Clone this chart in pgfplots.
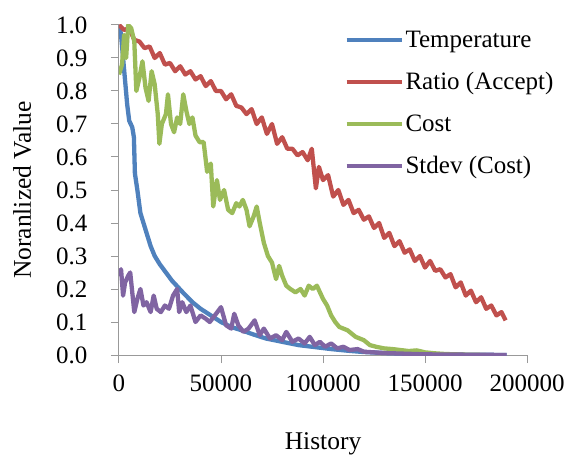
\documentclass[border=0pt]{standalone}
\usepackage{pgfplots}
\pgfplotsset{compat=1.18}
\usepackage{fontspec}
\setmainfont{Liberation Serif}
\definecolor{xlblue}{HTML}{4F81BD}
\definecolor{xlred}{HTML}{C0504D}
\definecolor{xlgreen}{HTML}{9BBB59}
\definecolor{xlpurple}{HTML}{8064A2}
\begin{document}
\begin{tikzpicture}
\begin{axis}[
  name=ax,
  scale only axis,
  width=408pt, height=330pt,
  xmin=0, xmax=200000, ymin=0, ymax=1,
  axis x line*=bottom, axis y line*=left,
  axis line style={draw=gray!80, line width=1pt, -},
  tick style={draw=gray!80, line width=1pt},
  tick align=outside,
  major tick length=8pt,
  scaled x ticks=false,
  xtick={0,50000,100000,150000,200000},
  xticklabels={0,50000,100000,150000,200000},
  ytick={0,0.1,0.2,0.3,0.4,0.5,0.6,0.7,0.8,0.9,1.0},
  yticklabels={0.0,0.1,0.2,0.3,0.4,0.5,0.6,0.7,0.8,0.9,1.0},
  xticklabel style={font=\fontsize{25}{29}\selectfont, yshift=-8pt},
  yticklabel style={font=\fontsize{25}{29}\selectfont, xshift=-20pt},
  xlabel={History},
  ylabel={Noranlized Value},
  label style={font=\fontsize{25.5}{29}\selectfont},
  xlabel style={yshift=-34pt},
  ylabel style={yshift=18pt},
  legend cell align=left,
  legend image code/.code={\draw[#1, line width=4pt] (0pt,0pt) -- (55pt,0pt);},
  legend style={at={(0.545,0.995)}, anchor=north west, draw=none, fill=none,
    font=\fontsize{25}{29}\selectfont, row sep=19.5pt,
    nodes={inner sep=2pt}},
  every axis plot/.append style={line width=4.3pt, line join=round},
]
\addplot[xlblue] coordinates {
(0,1.0) (500,0.99) (1000,0.97) (2000,0.90) (3000,0.83) (4000,0.76) (5000,0.71)
(6500,0.69) (7300,0.66) (7800,0.55) (9000,0.50) (10500,0.43) (12000,0.40)
(13500,0.37) (15500,0.33) (17500,0.30) (20000,0.275) (23000,0.25) (26000,0.225)
(29000,0.205) (32000,0.185) (36000,0.16) (40000,0.14) (45000,0.12) (50000,0.10)
(55000,0.085) (60000,0.075) (66000,0.062) (72000,0.05) (80000,0.04) (88000,0.03)
(96000,0.024) (104000,0.018) (112000,0.013) (120000,0.009) (130000,0.006)
(140000,0.004) (150000,0.003) (160000,0.002) (170000,0.001) (190000,0.0)
};
\addlegendentry{Temperature}
\addplot[xlred] coordinates {
(0,1.00) (2500,0.985) (5000,0.99) (7500,0.955) (10000,0.95) (12500,0.93)
(15000,0.935) (17500,0.90) (20000,0.915) (22500,0.88) (25000,0.885) (27500,0.86)
(30000,0.875) (32500,0.85) (35000,0.86) (37500,0.835) (40000,0.845) (42500,0.815)
(45000,0.83) (47500,0.80) (50000,0.80) (52500,0.775) (55000,0.79) (57500,0.755)
(60000,0.75) (62500,0.73) (65000,0.745) (67500,0.70) (70000,0.72) (72500,0.67)
(75000,0.70) (77500,0.64) (80000,0.66) (82500,0.625) (85000,0.625) (87500,0.605)
(90000,0.615) (92500,0.59) (94500,0.625) (96500,0.505) (98000,0.57) (100000,0.53)
(102500,0.545) (105000,0.48) (107500,0.50) (110000,0.455) (112500,0.47)
(115000,0.43) (117500,0.44) (120000,0.41) (122500,0.42) (125000,0.385)
(127500,0.40) (130000,0.355) (132500,0.37) (135000,0.33) (137500,0.345)
(140000,0.31) (142500,0.32) (145000,0.285) (147500,0.30) (150000,0.265)
(152500,0.285) (155000,0.255) (157500,0.26) (160000,0.235) (162500,0.245)
(165000,0.205) (167500,0.22) (170000,0.18) (172500,0.195) (175000,0.16)
(177500,0.175) (180000,0.14) (182500,0.15) (185000,0.12) (187500,0.13) (189500,0.105)
};
\addlegendentry{Ratio (Accept)}
\addplot[xlgreen] coordinates {
(0,0.85) (1500,0.88) (2500,0.97) (3500,0.90) (4500,1.0) (6000,0.99) (7500,0.95)
(8500,0.80) (10000,0.84) (11500,0.89) (13000,0.81) (14500,0.77) (16000,0.86)
(17500,0.82) (19000,0.73) (19800,0.64) (21000,0.70) (23000,0.73) (24000,0.79)
(25500,0.70) (27000,0.675) (28500,0.72) (30000,0.70) (31500,0.79) (33000,0.74)
(34500,0.70) (36000,0.72) (37500,0.665) (39500,0.645) (41500,0.645) (43200,0.555)
(45000,0.58) (46200,0.45) (48000,0.53) (49500,0.47) (51500,0.50) (53500,0.44)
(55500,0.43) (57500,0.46) (59000,0.45) (60700,0.47) (62500,0.44) (64000,0.39)
(66000,0.42) (67500,0.45) (69000,0.40) (71000,0.34) (73000,0.30) (75000,0.28)
(77000,0.23) (78500,0.27) (80000,0.24) (82000,0.21) (84000,0.20) (86500,0.19)
(89000,0.20) (91000,0.18) (93000,0.21) (95000,0.20) (97000,0.21) (98500,0.19)
(100000,0.17) (102000,0.15) (104000,0.12) (106000,0.10) (108000,0.085)
(110000,0.08) (112000,0.075) (114000,0.065) (116000,0.055) (118000,0.05)
(120000,0.045) (123000,0.03) (126000,0.025) (130000,0.02) (134000,0.018)
(138000,0.015) (142000,0.012) (146000,0.014) (150000,0.008) (155000,0.005)
(160000,0.003) (170000,0.001) (180000,0.0)
};
\addlegendentry{Cost}
\addplot[xlpurple] coordinates {
(0,0.24) (1000,0.26) (2000,0.18) (3000,0.22) (4500,0.24) (5500,0.25) (6500,0.19)
(7500,0.13) (9000,0.17) (10500,0.20) (12000,0.15) (13500,0.16) (15500,0.13)
(17000,0.18) (18500,0.14) (20500,0.13) (22500,0.15) (24500,0.14) (26500,0.18)
(28500,0.20) (29500,0.13) (31000,0.16) (33000,0.13) (35000,0.15) (37500,0.10)
(40000,0.12) (42500,0.11) (44500,0.10) (47000,0.12) (50000,0.145) (52500,0.09)
(55000,0.08) (56500,0.125) (58500,0.09) (61000,0.07) (63500,0.08) (66500,0.105)
(69000,0.06) (71000,0.08) (74000,0.05) (77000,0.06) (80000,0.045) (82000,0.07)
(85000,0.04) (88000,0.05) (91000,0.035) (93500,0.055) (96000,0.03) (98500,0.04)
(101000,0.025) (104000,0.035) (107000,0.02) (110000,0.025) (113000,0.015)
(117000,0.018) (120000,0.01) (125000,0.008) (130000,0.006) (140000,0.004)
(150000,0.002) (170000,0.001) (190000,0.0)
};
\addlegendentry{Stdev (Cost)}
\end{axis}
\pgfresetboundingbox
\path ([shift={(-119pt,-100pt)}]ax.south west) rectangle ([shift={(448pt,355pt)}]ax.south west);
\end{tikzpicture}
\end{document}
